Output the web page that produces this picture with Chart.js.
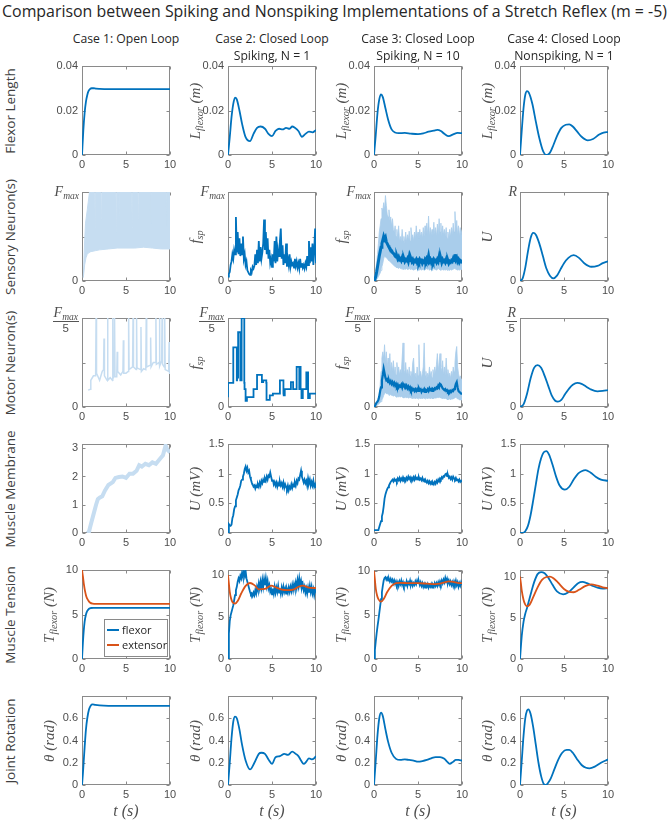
<!DOCTYPE html>
<html><head><meta charset="utf-8">
<script src="https://cdn.jsdelivr.net/npm/chart.js@4.4.1/dist/chart.umd.min.js"></script>
<style>
body{margin:0;background:#fff;width:669px;height:821px;overflow:hidden;position:relative;font-family:'Open Sans',sans-serif}
canvas{position:absolute}
.lbl{position:absolute;white-space:nowrap;transform:translate(-50%,-50%);line-height:1}
.rot{transform:translate(-50%,-50%) rotate(-90deg)}
.math{font-family:'Liberation Serif','DejaVu Serif',serif;font-style:italic;color:#505050;font-size:15px}
.math sub{font-size:0.68em;vertical-align:-0.35em;line-height:0}
.row{font-family:'Open Sans',sans-serif;font-size:13.5px;color:#404040}
.head{font-family:'Open Sans',sans-serif;font-size:12.2px;color:#262626}
#title{position:absolute;left:334.5px;top:12px;transform:translate(-50%,-50%);white-space:nowrap;font-family:'Open Sans',sans-serif;color:#262626;line-height:1}
.frac{position:absolute;display:flex;flex-direction:column;align-items:center}
.frac .num{line-height:14px;font-size:14px;border-bottom:1px solid #555;padding:0 1px 1px 1px}
.frac .den{line-height:13px;font-family:'Liberation Sans',sans-serif;font-size:11.5px;color:#4d4d4d;font-style:normal}
#legend{position:absolute;left:104px;top:619px;width:62px;height:36px;border:1px solid #8a8a8a;background:#fff;font-family:'Open Sans',sans-serif;font-size:11px;color:#262626}
#legend .it{position:absolute;left:2px;height:14px;line-height:14px;white-space:nowrap}
#legend .sw{display:inline-block;width:12px;height:2px;vertical-align:middle;margin-right:3px;position:relative;top:-1px}
</style></head><body>
<div id="title">Comparison between Spiking and Nonspiking Implementations of a Stretch Reflex (m = -5)</div>
<script>
// ---------------- DATA ----------------
const COLUMN_TITLES = [["Case 1: Open Loop"], ["Case 2: Closed Loop", "Spiking, N = 1"], ["Case 3: Closed Loop", "Spiking, N = 10"], ["Case 4: Closed Loop", "Nonspiking, N = 1"]];
const ROW_TITLES = ["Flexor Length", "Sensory Neuron(s)", "Motor Neuron(s)", "Muscle Membrane", "Muscle Tension", "Joint Rotation"];
const X_TICKS = [0, 5, 10];
const X_TICK_LABELS = ["0", "5", "10"];
const LEGEND_LABELS = ["flexor", "extensor"];

// common time grid for noisy (spiking) traces, s
const T100 = [0,0.1,0.2,0.3,0.4,0.5,0.6,0.7,0.8,0.9,
 1,1.1,1.2,1.3,1.4,1.5,1.6,1.7,1.8,1.9,
 2,2.1,2.2,2.3,2.4,2.5,2.6,2.7,2.8,2.9,
 3,3.1,3.2,3.3,3.4,3.5,3.6,3.7,3.8,3.9,
 4,4.1,4.2,4.3,4.4,4.5,4.6,4.7,4.8,4.9,
 5,5.1,5.2,5.3,5.4,5.5,5.6,5.7,5.8,5.9,
 6,6.1,6.2,6.3,6.4,6.5,6.6,6.7,6.8,6.9,
 7,7.1,7.2,7.3,7.4,7.5,7.6,7.7,7.8,7.9,
 8,8.1,8.2,8.3,8.4,8.5,8.6,8.7,8.8,8.9,
 9,9.1,9.2,9.3,9.4,9.5,9.6,9.7,9.8,9.9,
 10];

// ----- Case 1: open loop -----
const c1_len_t = [0,0.15,0.3,0.45,0.6,0.75,0.9,1.1,1.3,1.6,2,3,5,10];
const c1_len_v = [0,0.011,0.019,0.024,0.027,0.0288,0.0296,0.03,0.03,0.0298,0.0297,0.0296,0.0296,0.0296];
const c1_sens_up_t = [0.15,0.3,0.4,0.6,0.85,1.0,1.45,1.5,1.55,2.15,2.2,2.25,3.85,3.9,3.95,4.15,4.2,4.25,5.65,5.7,5.75,6.35,6.4,6.45,7.75,7.8,7.85,9.55,9.6,9.65,10];
const c1_sens_up_v = [0.04,0.45,0.65,0.8,1.0,1.0,1.0,0.6,1.0,1.0,0.7,1.0,1.0,0.55,1.0,1.0,0.65,1.0,1.0,0.6,1.0,1.0,0.7,1.0,1.0,0.65,1.0,1.0,0.6,1.0,1.0];
const c1_sens_lo_t = [0.15,0.3,0.45,0.6,0.8,1.0,1.5,2,3,4,5,6,7,8,9,10];
const c1_sens_lo_v = [0.04,0.18,0.26,0.3,0.32,0.33,0.34,0.35,0.36,0.37,0.37,0.37,0.38,0.37,0.36,0.36];
const c1_mot_t = [0.7,0.95,1.0,1.3,1.55,1.6,1.65,2.0,2.3,2.45,2.5,2.55,2.85,2.9,2.95,3.2,3.45,3.5,3.55,3.65,3.7,3.75,3.95,4.0,4.05,4.4,4.65,4.7,4.75,5.0,5.25,5.3,5.35,5.75,5.8,5.85,6.15,6.2,6.25,6.65,6.7,6.75,7.0,7.25,7.3,7.35,7.75,7.8,7.85,8.1,8.35,8.4,8.45,8.75,8.8,8.85,9.05,9.1,9.15,9.35,9.4,9.45,9.85,9.9,9.95,10];
const c1_mot_v = [0.19,0.2,0.3,0.35,0.35,1.0,0.38,0.3,0.4,0.42,0.77,0.35,0.3,1.0,0.3,0.33,0.3,1.0,0.33,0.36,1.0,0.34,0.34,0.62,0.4,0.36,0.4,0.75,0.38,0.38,0.4,1.0,0.42,0.45,1.0,0.45,0.42,1.0,0.44,0.42,0.9,0.4,0.43,0.42,1.0,0.45,0.47,0.78,0.45,0.5,0.5,1.0,0.48,0.5,1.0,0.46,0.52,1.0,0.48,0.45,1.0,0.42,0.4,0.73,0.38,0.38];
const c1_mem_t = [0.6,0.8,1.0,1.3,1.6,1.8,2.0,2.3,2.6,3.0,3.5,3.8,4.2,4.6,5.0,5.4,5.8,6.2,6.5,6.8,7.2,7.6,8.0,8.4,8.8,9.2,9.5,9.7,10];
const c1_mem_v = [0,0.05,0.3,0.65,1.0,1.2,1.25,1.3,1.5,1.7,1.8,1.95,1.98,2.0,1.95,2.1,2.1,2.2,2.4,2.35,2.45,2.4,2.5,2.45,2.6,2.75,3.1,2.95,2.85];
const c1_flex_t = [0,0.1,0.2,0.3,0.45,0.6,0.8,1.0,1.3,1.7,10];
const c1_flex_v = [0,1.8,3.2,4.2,5.0,5.4,5.65,5.73,5.75,5.75,5.75];
const c1_ext_t = [0,0.1,0.2,0.35,0.5,0.7,0.9,1.2,1.6,10];
const c1_ext_v = [10,9.3,8.5,7.6,7.0,6.6,6.35,6.22,6.2,6.2];
const c1_rot_t = [0,0.1,0.2,0.3,0.45,0.6,0.8,1.0,1.2,1.5,2,3,10];
const c1_rot_v = [0,0.1,0.22,0.34,0.5,0.6,0.68,0.715,0.725,0.72,0.715,0.712,0.712];

// ----- Case 2: spiking, N = 1 -----
const c2_len_t = [0,0.2,0.4,0.6,0.8,1.0,1.3,1.6,2.0,2.5,2.9,3.3,3.7,4.2,4.6,5.0,5.4,5.8,6.2,6.6,7.0,7.3,7.6,8.0,8.4,8.8,9.2,9.6,10];
const c2_len_v = [0,0.008,0.017,0.023,0.0258,0.025,0.02,0.014,0.008,0.0062,0.0095,0.0122,0.0128,0.0118,0.0095,0.0085,0.0108,0.0118,0.0115,0.0122,0.0118,0.0128,0.0122,0.0108,0.0082,0.0095,0.0105,0.0102,0.0112];
const c2_sens_v = [0.05,0.08,0.1,0.18,0.22,0.3,0.25,0.35,0.3,0.72,
 0.32,0.55,0.3,0.48,0.28,0.42,0.3,0.5,0.25,0.3,
 0.18,0.22,0.12,0.1,0.08,0.07,0.12,0.1,0.16,0.14,
 0.17,0.3,0.18,0.35,0.2,0.45,0.22,0.38,0.25,0.32,
 0.42,0.69,0.35,0.55,0.3,0.48,0.25,0.35,0.2,0.25,
 0.16,0.3,0.22,0.45,0.2,0.5,0.22,0.35,0.28,0.45,
 0.59,0.25,0.4,0.18,0.3,0.2,0.42,0.16,0.25,0.18,
 0.3,0.16,0.22,0.18,0.2,0.15,0.25,0.17,0.22,0.15,
 0.2,0.14,0.25,0.16,0.2,0.15,0.18,0.14,0.2,0.16,
 0.28,0.18,0.45,0.2,0.38,0.22,0.42,0.18,0.35,0.59,
 0.2];
const c2_mot_t = [0,0.6,1.0,1.03,1.15,1.4,1.43,1.55,1.85,1.88,2.0,2.15,2.9,3.3,3.85,3.88,4.0,4.35,4.38,4.75,5.1,5.9,6.3,6.33,6.45,7.15,7.4,7.43,7.8,8.1,8.13,8.25,8.28,8.35,8.5,8.9,9.1,9.13,9.3,9.6,10];
const c2_mot_v = [0.11,0.27,0.67,0.3,0.33,0.84,0.3,0.3,1.0,0.27,0.2,0.07,0.11,0.2,0.36,0.28,0.28,0.3,0.27,0.08,0.13,0.15,0.3,0.15,0.13,0.2,0.28,0.2,0.2,0.45,0.2,0.45,0.2,0.2,0.1,0.2,0.39,0.1,0.1,0.15,0.15];
const c2_mem_v = [0,0.15,0.13,0.12,0.14,0.25,0.3,0.4,0.45,0.55,
 0.6,0.65,0.72,0.75,0.8,0.88,0.9,0.95,1.0,1.08,
 1.12,1.05,1.1,1.02,1.05,0.95,0.9,0.85,0.82,0.78,
 0.8,0.75,0.8,0.77,0.82,0.78,0.85,0.8,0.88,0.84,
 0.9,0.86,0.92,0.88,0.95,0.9,0.97,0.95,1.02,0.95,
 0.88,0.9,0.82,0.86,0.8,0.85,0.78,0.84,0.8,0.86,
 0.8,0.84,0.78,0.85,0.76,0.82,0.78,0.74,0.8,0.72,
 0.78,0.75,0.82,0.76,0.82,0.78,0.85,0.8,0.88,0.84,
 0.92,0.9,0.98,1.05,0.95,0.9,0.85,0.9,0.84,0.88,
 0.8,0.92,0.84,0.9,0.8,0.86,0.8,0.88,0.78,0.82,
 0.76];
const c2_flex_v = [0,3.0,4.5,5.2,5.6,6.0,6.4,7.0,7.6,8.2,
 8.6,9.2,9.6,9.3,9.9,9.6,10.3,9.8,10.4,9.9,
 10.5,9.6,9.2,8.8,8.4,8.0,7.7,7.8,7.5,7.9,
 7.6,8.2,7.8,8.6,8.2,9.0,8.4,9.2,8.5,9.4,
 8.6,9.5,8.8,9.6,8.7,9.3,8.4,8.8,8.0,8.3,
 7.7,8.4,7.8,8.6,7.9,8.5,8.0,8.7,7.9,8.4,
 7.8,8.5,7.9,8.6,8.0,8.4,7.8,8.3,7.9,8.5,
 8.0,8.6,8.1,8.8,8.2,8.9,8.4,9.1,8.5,9.4,
 8.7,9.6,8.8,9.3,8.5,8.9,8.2,8.6,7.9,8.4,
 7.8,8.5,7.9,8.7,8.0,8.6,7.8,8.3,7.6,8.2,
 7.9];
const c2_ext_t = [0,0.1,0.2,0.35,0.5,0.8,1.1,1.5,2.0,2.5,3.0,3.5,4.2,4.9,5.5,6.0,6.8,7.5,8.0,8.5,9.2,10];
const c2_ext_v = [10,9.0,8.0,7.2,6.8,6.6,6.9,7.8,8.7,9.05,8.8,8.3,8.35,8.75,8.5,8.3,8.2,8.3,8.6,8.75,8.5,8.45];
const c2_rot_t = [0,0.2,0.4,0.6,0.8,1.0,1.3,1.6,2.0,2.5,3.0,3.5,3.8,4.2,4.6,5.0,5.4,5.9,6.4,6.8,7.3,7.7,8.0,8.3,8.6,8.9,9.2,9.5,9.8,10];
const c2_rot_v = [0,0.2,0.42,0.57,0.615,0.6,0.5,0.36,0.22,0.14,0.2,0.28,0.29,0.28,0.23,0.19,0.25,0.26,0.28,0.27,0.3,0.28,0.26,0.22,0.19,0.21,0.24,0.23,0.24,0.26];

// ----- Case 3: spiking, N = 10 -----
const c3_len_t = [0,0.2,0.4,0.6,0.8,1.0,1.3,1.6,2.0,2.4,2.8,3.5,4.2,5.0,5.6,6.2,6.8,7.2,7.6,8.0,8.5,9.0,9.5,10];
const c3_len_v = [0,0.009,0.019,0.025,0.0272,0.026,0.021,0.016,0.0115,0.0101,0.0098,0.0099,0.0096,0.0094,0.0097,0.0105,0.011,0.0113,0.0108,0.0095,0.0085,0.0093,0.0099,0.0098];
const c3_sens_mean = [0,0.02,0.05,0.1,0.16,0.22,0.28,0.33,0.38,0.42,
 0.46,0.5,0.47,0.49,0.44,0.42,0.4,0.38,0.37,0.35,
 0.34,0.32,0.31,0.3,0.28,0.27,0.28,0.25,0.27,0.24,
 0.25,0.23,0.26,0.23,0.25,0.22,0.24,0.23,0.25,0.22,
 0.27,0.23,0.25,0.22,0.24,0.21,0.23,0.22,0.24,0.21,
 0.23,0.21,0.24,0.22,0.23,0.2,0.22,0.21,0.24,0.22,
 0.25,0.23,0.28,0.22,0.24,0.21,0.23,0.21,0.24,0.22,
 0.23,0.21,0.24,0.22,0.27,0.23,0.25,0.21,0.24,0.22,
 0.23,0.21,0.24,0.21,0.23,0.2,0.22,0.21,0.23,0.22,
 0.25,0.23,0.3,0.24,0.26,0.22,0.24,0.21,0.23,0.22,
 0.24];
const c3_sens_max = [0,0.05,0.12,0.2,0.3,0.42,0.55,0.62,0.7,0.82,
 0.78,0.88,0.8,0.96,0.85,0.75,0.72,0.8,0.68,0.72,
 0.62,0.7,0.58,0.55,0.62,0.5,0.58,0.48,0.62,0.45,
 0.5,0.44,0.58,0.45,0.5,0.42,0.55,0.44,0.52,0.46,
 0.56,0.45,0.6,0.48,0.52,0.45,0.55,0.48,0.62,0.5,
 0.55,0.48,0.58,0.5,0.55,0.48,0.6,0.5,0.62,0.52,
 0.65,0.52,0.73,0.5,0.6,0.52,0.58,0.5,0.66,0.52,
 0.6,0.5,0.64,0.52,0.7,0.55,0.65,0.5,0.62,0.52,
 0.58,0.5,0.6,0.48,0.55,0.47,0.58,0.5,0.6,0.52,
 0.65,0.55,0.78,0.56,0.68,0.52,0.62,0.5,0.6,0.52,
 0.58];
const c3_sens_min = [0,0,0.01,0.02,0.03,0.05,0.07,0.09,0.12,0.16,
 0.2,0.25,0.28,0.27,0.26,0.25,0.24,0.23,0.22,0.21,
 0.2,0.19,0.18,0.17,0.16,0.16,0.15,0.15,0.14,0.15,
 0.14,0.14,0.13,0.14,0.13,0.14,0.13,0.14,0.13,0.13,
 0.14,0.13,0.14,0.13,0.13,0.12,0.13,0.13,0.14,0.13,
 0.13,0.12,0.13,0.13,0.12,0.13,0.13,0.12,0.13,0.13,
 0.14,0.13,0.14,0.12,0.13,0.13,0.12,0.13,0.14,0.13,
 0.13,0.12,0.13,0.14,0.13,0.13,0.12,0.13,0.13,0.12,
 0.13,0.12,0.13,0.12,0.13,0.12,0.12,0.13,0.12,0.13,
 0.13,0.14,0.15,0.13,0.13,0.12,0.13,0.12,0.13,0.13,
 0.13];
const c3_mot_mean = [0,0.01,0.03,0.05,0.06,0.08,0.12,0.18,0.22,0.3,
 0.36,0.43,0.38,0.33,0.3,0.31,0.28,0.3,0.27,0.29,
 0.26,0.28,0.25,0.27,0.24,0.26,0.23,0.25,0.22,0.24,
 0.23,0.25,0.22,0.26,0.24,0.25,0.22,0.24,0.21,0.23,
 0.2,0.22,0.19,0.21,0.19,0.2,0.18,0.2,0.18,0.2,
 0.18,0.21,0.19,0.2,0.17,0.19,0.18,0.2,0.17,0.19,
 0.18,0.2,0.18,0.21,0.19,0.2,0.18,0.2,0.19,0.21,
 0.2,0.22,0.21,0.24,0.22,0.26,0.25,0.23,0.21,0.2,
 0.19,0.2,0.18,0.19,0.17,0.18,0.16,0.18,0.17,0.19,
 0.18,0.2,0.22,0.26,0.28,0.22,0.18,0.17,0.16,0.15,
 0.15];
const c3_mot_max = [0,0.02,0.04,0.06,0.08,0.1,0.15,0.25,0.4,0.55,
 0.62,0.55,0.7,0.5,0.62,0.45,0.55,0.42,0.6,0.4,
 0.5,0.4,0.52,0.38,0.45,0.36,0.5,0.38,0.45,0.36,
 0.42,0.38,0.55,0.72,0.42,0.38,0.5,0.36,0.42,0.34,
 0.45,0.35,0.4,0.33,0.5,0.55,0.35,0.38,0.32,0.45,
 0.35,0.7,0.36,0.4,0.32,0.38,0.45,0.72,0.35,0.4,
 0.32,0.38,0.34,0.45,0.35,0.4,0.33,0.42,0.35,0.45,
 0.38,0.48,0.6,0.4,0.5,0.6,0.45,0.4,0.52,0.36,
 0.45,0.35,0.55,0.38,0.42,0.34,0.38,0.32,0.4,0.34,
 0.45,0.4,0.5,0.62,0.68,0.45,0.38,0.32,0.35,0.3,
 0.32];
const c3_mot_min = [0,0,0.01,0.02,0.02,0.03,0.04,0.05,0.06,0.08,
 0.1,0.13,0.15,0.16,0.15,0.15,0.14,0.14,0.13,0.14,
 0.13,0.13,0.12,0.13,0.12,0.12,0.11,0.12,0.11,0.12,
 0.11,0.12,0.11,0.11,0.1,0.11,0.11,0.1,0.11,0.1,
 0.1,0.11,0.1,0.1,0.09,0.1,0.1,0.09,0.1,0.1,
 0.09,0.1,0.1,0.09,0.1,0.09,0.1,0.1,0.09,0.1,
 0.1,0.09,0.1,0.1,0.09,0.1,0.1,0.09,0.1,0.1,
 0.1,0.1,0.11,0.1,0.11,0.11,0.1,0.1,0.09,0.1,
 0.09,0.1,0.09,0.09,0.08,0.09,0.09,0.08,0.09,0.09,
 0.09,0.1,0.1,0.11,0.1,0.09,0.09,0.08,0.08,0.08,
 0.08];
const c3_mem_v = [0.05,0.05,0.05,0.05,0.05,0.05,0.1,0.15,0.2,0.28,
 0.34,0.45,0.58,0.65,0.7,0.74,0.77,0.8,0.83,0.86,
 0.88,0.9,0.87,0.91,0.88,0.9,0.87,0.92,0.89,0.93,
 0.88,0.92,0.89,0.94,0.9,0.92,0.88,0.93,0.9,0.95,
 0.91,0.94,0.9,0.93,0.89,0.94,0.9,0.95,0.91,0.93,
 0.9,0.94,0.9,0.92,0.89,0.93,0.88,0.9,0.86,0.88,
 0.85,0.88,0.84,0.87,0.83,0.86,0.82,0.85,0.82,0.86,
 0.83,0.88,0.85,0.9,0.87,0.92,0.9,0.94,0.92,0.96,
 0.95,0.99,1.0,0.96,0.98,0.93,0.95,0.91,0.94,0.9,
 0.95,0.92,0.9,0.93,0.89,0.9,0.87,0.9,0.86,0.88,
 0.86];
const c3_flex_v = [0,1.0,2.0,2.9,3.7,4.4,5.2,6.0,6.8,7.6,
 8.3,8.9,9.2,9.3,9.0,9.2,8.9,9.1,8.8,9.1,
 8.8,9.0,8.6,8.9,8.5,8.8,8.4,8.7,8.3,8.8,
 8.5,8.9,8.4,8.7,8.3,8.6,8.4,8.8,8.3,8.7,
 8.5,8.9,8.4,8.7,8.3,8.6,8.4,8.8,8.5,8.9,
 8.6,8.8,8.4,8.7,8.3,8.6,8.2,8.5,8.1,8.4,
 8.2,8.5,8.1,8.4,8.2,8.5,8.1,8.4,8.2,8.6,
 8.3,8.6,8.3,8.7,8.4,8.8,8.5,8.9,8.6,9.0,
 8.7,9.2,8.8,9.1,8.6,8.9,8.5,8.8,8.4,8.7,
 8.3,8.8,8.5,8.9,8.4,8.7,8.2,8.6,8.3,8.7,
 8.4];
const c3_ext_t = [0,0.1,0.2,0.35,0.5,0.8,1.1,1.5,2.0,2.5,3.0,4.0,5.0,6.0,7.0,7.5,8.0,8.5,9.0,9.5,10];
const c3_ext_v = [10,9.0,8.0,7.2,6.8,6.5,6.8,7.6,8.3,8.6,8.65,8.6,8.6,8.55,8.5,8.55,8.7,8.8,8.75,8.65,8.6];
const c3_rot_t = [0,0.2,0.4,0.6,0.8,1.0,1.3,1.6,2.0,2.5,3.0,3.5,4.0,4.5,5.0,5.5,6.0,6.5,7.0,7.5,8.0,8.3,8.6,9.0,9.3,9.6,10];
const c3_rot_v = [0,0.22,0.45,0.6,0.65,0.62,0.5,0.39,0.29,0.235,0.225,0.23,0.225,0.22,0.21,0.215,0.225,0.24,0.25,0.25,0.235,0.21,0.19,0.21,0.225,0.225,0.22];

// ----- Case 4: nonspiking, N = 1 -----
const c4_len_t = [0,0.2,0.4,0.6,0.8,1.0,1.4,1.8,2.2,2.6,3.0,3.4,3.8,4.2,4.7,5.2,5.6,6.0,6.5,7.0,7.7,8.3,9.0,9.5,10];
const c4_len_v = [0,0.011,0.021,0.027,0.0287,0.028,0.023,0.015,0.0075,0.002,0,0.001,0.0045,0.0085,0.0122,0.0136,0.0138,0.0128,0.0105,0.0082,0.0066,0.0072,0.0092,0.0101,0.0103];
const c4_sens_t = [0,0.3,0.6,0.9,1.2,1.5,1.8,2.2,2.6,3.0,3.4,3.8,4.2,4.6,5.0,5.5,6.1,6.7,7.3,8.1,8.8,9.4,10];
const c4_sens_v = [0,0.03,0.15,0.33,0.48,0.54,0.52,0.42,0.28,0.14,0.06,0.03,0.06,0.13,0.2,0.26,0.29,0.26,0.2,0.16,0.17,0.2,0.22];
const c4_mot_t = [0,0.4,0.8,1.2,1.6,2.0,2.4,2.8,3.2,3.6,4.0,4.3,4.7,5.1,5.6,6.0,6.5,7.0,7.5,8.0,8.8,9.4,10];
const c4_mot_v = [0,0.03,0.15,0.32,0.44,0.47,0.44,0.35,0.24,0.13,0.07,0.06,0.08,0.14,0.21,0.25,0.27,0.26,0.23,0.2,0.175,0.18,0.19];
const c4_mem_t = [0,0.3,0.6,0.9,1.2,1.5,1.8,2.1,2.4,2.7,3.0,3.3,3.7,4.1,4.5,5.1,5.6,6.1,6.6,7.0,7.45,8.0,8.6,9.2,10];
const c4_mem_v = [0,0,0.03,0.12,0.3,0.55,0.82,1.08,1.26,1.36,1.38,1.32,1.15,0.95,0.8,0.73,0.78,0.9,1.0,1.04,1.06,1.02,0.95,0.9,0.88];
const c4_flex_t = [0,0.2,0.4,0.6,0.8,1.0,1.3,1.6,2.0,2.4,2.8,3.2,3.7,4.2,4.9,5.5,6.1,6.6,7.1,7.6,8.2,8.8,9.4,10];
const c4_flex_v = [0,2.8,4.5,5.5,6.2,7.0,8.2,9.3,10.3,10.55,10.4,9.9,9.0,8.2,7.85,8.1,8.7,9.2,9.35,9.2,8.9,8.65,8.55,8.6];
const c4_ext_t = [0,0.1,0.2,0.4,0.6,0.8,1.1,1.5,2.0,2.5,3.0,3.4,3.8,4.3,5.0,5.6,6.1,6.7,7.4,8.1,8.8,9.4,10];
const c4_ext_v = [10,9.2,8.3,7.2,6.6,6.4,6.6,7.5,8.7,9.6,9.95,10.0,9.8,9.3,8.5,8.15,8.1,8.4,8.85,9.05,8.9,8.7,8.6];
const c4_rot_t = [0,0.2,0.4,0.6,0.8,0.95,1.2,1.5,1.8,2.1,2.4,2.7,2.95,3.2,3.5,3.9,4.3,4.8,5.3,5.6,6.0,6.5,7.0,7.5,7.9,8.5,9.2,10];
const c4_rot_v = [0,0.22,0.44,0.6,0.67,0.68,0.64,0.52,0.36,0.2,0.08,0.01,0,0.02,0.06,0.14,0.22,0.29,0.315,0.315,0.29,0.23,0.18,0.155,0.15,0.165,0.2,0.23];

// y-axis ranges & ticks per row
const Y_LEN = {min:0, max:0.04, ticks:[0,0.02,0.04], labels:["0","0.02","0.04"]};
const Y_NORM = {min:0, max:1, ticks:[0,0.5,1], labels:["0","",""]};
const Y_MEM1 = {min:0, max:3.15, ticks:[0,1,2,3], labels:["0","1","2","3"]};
const Y_MEM = {min:0, max:1.5, ticks:[0,0.5,1,1.5], labels:["0","0.5","1","1.5"]};
const Y_TEN_TICKS = [0,5,10], Y_TEN_LABELS = ["0","5","10"];
const Y_TEN_MAX = [10, 10.6, 10.1, 10.8];
const Y_ROT = {min:0, max:0.8, ticks:[0,0.2,0.4,0.6], labels:["0","0.2","0.4","0.6"]};

// ---------------- LAYOUT / STYLE ----------------
const COL_LEFT = [82,228,374,520], ROW_TOP = [66,192,318,444,570,696];
const PW = 88, PH = 89, PL = 40, PT = 12, PR = 14, PB = 20;
const BLUE = '#0072BD', ORANGE = '#D95319', LIGHT = '#c6ddf1', BAND = '#a9cdeb';
const TICK_FONT = {family:"'Liberation Sans', Arial, sans-serif", size:11};
const TICK_COLOR = '#4d4d4d', BOX_COLOR = '#8a8a8a';

Chart.defaults.font.family = "'Liberation Sans', Arial, sans-serif";

function pts(xs, ys){ return xs.map((x,i)=>({x:x, y:ys[i]})); }
function ln(xs, ys, color, width, extra){
  return Object.assign({data:pts(xs,ys), borderColor:color, borderWidth:width, pointRadius:0, fill:false, tension:0}, extra||{});
}
const SM = {cubicInterpolationMode:'monotone'};

const boxPlugin = {id:'boxAxes', beforeDatasetsDraw(chart){
  const ctx = chart.ctx, a = chart.chartArea, xs = chart.scales.x, ys = chart.scales.y;
  ctx.save(); ctx.strokeStyle = BOX_COLOR; ctx.lineWidth = 1;
  const l = Math.round(a.left)+0.5, r = Math.round(a.right)-0.5, t = Math.round(a.top)+0.5, b = Math.round(a.bottom)-0.5;
  ctx.strokeRect(l, t, r-l, b-t);
  ctx.beginPath();
  xs.ticks.forEach(tk=>{ const px = Math.round(xs.getPixelForValue(tk.value))+0.5; ctx.moveTo(px,b); ctx.lineTo(px,b-3); ctx.moveTo(px,t); ctx.lineTo(px,t+3); });
  ys.ticks.forEach(tk=>{ const py = Math.round(ys.getPixelForValue(tk.value))+0.5; ctx.moveTo(l,py); ctx.lineTo(l+3,py); ctx.moveTo(r,py); ctx.lineTo(r-3,py); });
  ctx.stroke(); ctx.restore();
}};

function makePlot(r, c, ycfg, datasets){
  const L = COL_LEFT[c], T = ROW_TOP[r];
  const cv = document.createElement('canvas');
  cv.width = PW+PL+PR; cv.height = PH+PT+PB;
  cv.style.left = (L-PL)+'px'; cv.style.top = (T-PT)+'px';
  document.body.appendChild(cv);
  new Chart(cv, {type:'line', data:{datasets:datasets}, plugins:[boxPlugin], options:{
    responsive:false, animation:false, devicePixelRatio:1,
    layout:{padding:{top:PT, right:PR, left:0, bottom:0}},
    plugins:{legend:{display:false}, tooltip:{enabled:false}},
    scales:{
      x:{type:'linear', min:0, max:10,
         afterFit:s=>{s.height=PB;},
         afterBuildTicks:s=>{s.ticks = X_TICKS.map(v=>({value:v}));},
         ticks:{padding:3, font:TICK_FONT, color:TICK_COLOR, maxRotation:0, autoSkip:false, callback:(v,i)=>X_TICK_LABELS[i]},
         grid:{display:false, drawTicks:false}, border:{display:false}},
      y:{type:'linear', min:ycfg.min, max:ycfg.max,
         afterFit:s=>{s.width=PL;},
         afterBuildTicks:s=>{s.ticks = ycfg.ticks.map(v=>({value:v}));},
         ticks:{padding:4, font:TICK_FONT, color:TICK_COLOR, autoSkip:false, callback:(v,i)=>ycfg.labels[i]},
         grid:{display:false, drawTicks:false}, border:{display:false}}
    }
  }});
}

// ----- build plots -----
makePlot(0,0,Y_LEN,[ln(c1_len_t,c1_len_v,BLUE,1.8,SM)]);
makePlot(0,1,Y_LEN,[ln(c2_len_t,c2_len_v,BLUE,1.8,SM)]);
makePlot(0,2,Y_LEN,[ln(c3_len_t,c3_len_v,BLUE,1.8,SM)]);
makePlot(0,3,Y_LEN,[ln(c4_len_t,c4_len_v,BLUE,1.8,SM)]);
makePlot(1,0,Y_NORM,[
  ln(c1_sens_up_t,c1_sens_up_v,LIGHT,1,{fill:'+1', backgroundColor:LIGHT}),
  ln(c1_sens_lo_t,c1_sens_lo_v,LIGHT,1)]);
makePlot(1,1,Y_NORM,[ln(T100,c2_sens_v,BLUE,1.8)]);
makePlot(1,2,Y_NORM,[
  ln(T100,c3_sens_mean,BLUE,3),
  ln(T100,c3_sens_max,BAND,0.8,{fill:'+1', backgroundColor:BAND}),
  ln(T100,c3_sens_min,BAND,0.8)]);
makePlot(1,3,Y_NORM,[ln(c4_sens_t,c4_sens_v,BLUE,1.8,SM)]);
makePlot(2,0,Y_NORM,[ln(c1_mot_t,c1_mot_v,LIGHT,1.5)]);
makePlot(2,1,Y_NORM,[ln(c2_mot_t,c2_mot_v,BLUE,1.8,{stepped:'after'})]);
makePlot(2,2,Y_NORM,[
  ln(T100,c3_mot_mean,BLUE,2.2),
  ln(T100,c3_mot_max,BAND,0.8,{fill:'+1', backgroundColor:BAND}),
  ln(T100,c3_mot_min,BAND,0.8)]);
makePlot(2,3,Y_NORM,[ln(c4_mot_t,c4_mot_v,BLUE,1.8,SM)]);
makePlot(3,0,Y_MEM1,[ln(c1_mem_t,c1_mem_v,LIGHT,4)]);
makePlot(3,1,Y_MEM,[ln(T100,c2_mem_v,BLUE,1.8)]);
makePlot(3,2,Y_MEM,[ln(T100,c3_mem_v,BLUE,1.8)]);
makePlot(3,3,Y_MEM,[ln(c4_mem_t,c4_mem_v,BLUE,1.8,SM)]);
const tenY = c => ({min:0, max:Y_TEN_MAX[c], ticks:Y_TEN_TICKS, labels:Y_TEN_LABELS});
makePlot(4,0,tenY(0),[ln(c1_ext_t,c1_ext_v,ORANGE,1.8,SM), ln(c1_flex_t,c1_flex_v,BLUE,1.8,SM)]);
makePlot(4,1,tenY(1),[ln(c2_ext_t,c2_ext_v,ORANGE,1.8,SM), ln(T100,c2_flex_v,BLUE,1.8)]);
makePlot(4,2,tenY(2),[ln(c3_ext_t,c3_ext_v,ORANGE,1.8,SM), ln(T100,c3_flex_v,BLUE,1.8)]);
makePlot(4,3,tenY(3),[ln(c4_ext_t,c4_ext_v,ORANGE,1.8,SM), ln(c4_flex_t,c4_flex_v,BLUE,1.8,SM)]);
makePlot(5,0,Y_ROT,[ln(c1_rot_t,c1_rot_v,BLUE,1.8,SM)]);
makePlot(5,1,Y_ROT,[ln(c2_rot_t,c2_rot_v,BLUE,1.8,SM)]);
makePlot(5,2,Y_ROT,[ln(c3_rot_t,c3_rot_v,BLUE,1.8,SM)]);
makePlot(5,3,Y_ROT,[ln(c4_rot_t,c4_rot_v,BLUE,1.8,SM)]);

// ---------------- TEXT OVERLAYS ----------------
function addDiv(html, cls, style){
  const d = document.createElement('div'); d.className = cls; d.innerHTML = html;
  Object.assign(d.style, style); document.body.appendChild(d); return d;
}
(function(){
  const t = document.getElementById('title'); t.style.fontSize = '16px';
  const w = t.getBoundingClientRect().width; t.style.fontSize = (16*665/w).toFixed(2)+'px';
})();
COLUMN_TITLES.forEach((lines,c)=>{
  const cx = COL_LEFT[c] + PW/2;
  lines.forEach((s,k)=> addDiv(s,'lbl head',{left:cx+'px', top:(39+k*17)+'px'}));
});
ROW_TITLES.forEach((s,r)=> addDiv(s,'lbl rot row',{left:'11px', top:(ROW_TOP[r]+PH/2)+'px'}));
const YL = {
  L:'L<sub>flexor</sub> (m)', f:'f<sub>sp</sub>', U:'U', UmV:'U (mV)', T:'T<sub>flexor</sub> (N)', th:'θ (rad)'
};
const YLABELS = [
  [null, YL.L, YL.L, YL.L],
  [null, YL.f, YL.f, YL.U],
  [null, YL.f, YL.f, YL.U],
  [null, YL.UmV, YL.UmV, YL.UmV],
  [YL.T, YL.T, YL.T, YL.T],
  [YL.th, YL.th, YL.th, YL.th]
];
YLABELS.forEach((row,r)=>row.forEach((h,c)=>{
  if(!h) return;
  addDiv(h,'lbl rot math',{left:(COL_LEFT[c]-33)+'px', top:(ROW_TOP[r]+PH/2)+'px'});
}));
const TOP_SENS = ['F<sub>max</sub>','F<sub>max</sub>','F<sub>max</sub>','R'];
const TOP_MOT = ['F<sub>max</sub>','F<sub>max</sub>','F<sub>max</sub>','R'];
const TOP_MOT_DEN = '5';
TOP_SENS.forEach((h,c)=>{
  addDiv(h,'math',{position:'absolute', right:(669-(COL_LEFT[c]-3))+'px', top:(ROW_TOP[1]-9)+'px', lineHeight:'18px', whiteSpace:'nowrap', fontSize:'14px'});
});
TOP_MOT.forEach((h,c)=>{
  addDiv('<div class="num">'+h+'</div><div class="den">'+TOP_MOT_DEN+'</div>','frac math',{right:(669-(COL_LEFT[c]-3))+'px', top:(ROW_TOP[2]-12)+'px'});
});
for(let c=0;c<4;c++) addDiv('t (s)','lbl math',{left:(COL_LEFT[c]+PW/2)+'px', top:(ROW_TOP[5]+PH+26)+'px', fontSize:'16px'});
const lg = addDiv('','',{}); lg.id='legend';
LEGEND_LABELS.forEach((s,k)=>{
  const it = document.createElement('div'); it.className='it'; it.style.top=(3+k*15)+'px';
  it.innerHTML = '<span class="sw" style="background:'+(k?ORANGE:BLUE)+'"></span>'+s;
  lg.appendChild(it);
});
</script>
</body></html>
